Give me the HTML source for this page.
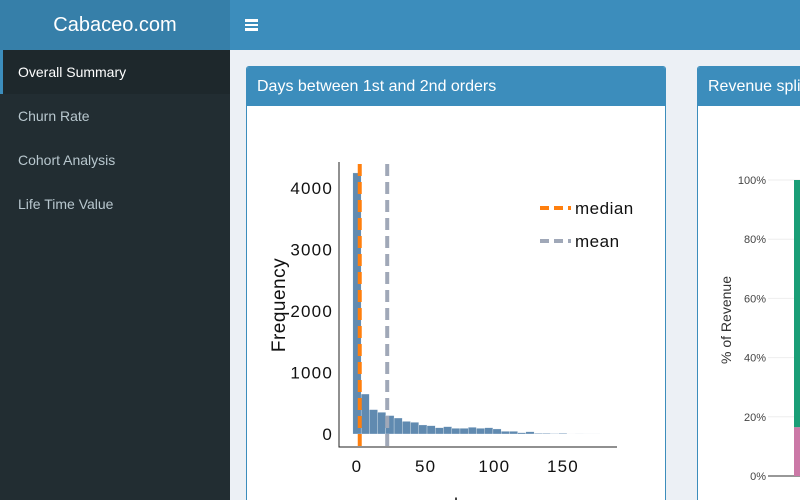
<!DOCTYPE html>
<html><head><meta charset="utf-8"><style>
*{box-sizing:border-box;margin:0;padding:0}
html,body{width:800px;height:500px;overflow:hidden}
body{background:#ecf0f5;font-family:"Liberation Sans",sans-serif;position:relative}
.abs{position:absolute}
.menu{position:absolute;left:0;width:230px;height:44px;color:#b8c7ce;font-size:14px;line-height:44px;padding-left:18px}
.bar{position:absolute;left:0;width:13px;height:2.5px;background:#fff}
</style></head><body>
<div class="abs" style="left:0;top:0;width:230px;height:50px;background:#367fa9;color:#fff;font-size:20px;line-height:50px;text-align:center">Cabaceo.com</div>
<div class="abs" style="left:230px;top:0;width:570px;height:50px;background:#3c8dbc"></div>
<div class="abs" style="left:245px;top:19px;width:13px;height:12px">
 <div class="bar" style="top:0"></div><div class="bar" style="top:4.5px"></div><div class="bar" style="top:9px"></div>
</div>
<div class="abs" style="left:0;top:50px;width:230px;height:450px;background:#222d32"></div>
<div class="menu" style="top:50px;background:#1e282c;color:#fff;border-left:3px solid #3c8dbc;padding-left:15px">Overall Summary</div>
<div class="menu" style="top:94px">Churn Rate</div>
<div class="menu" style="top:138px">Cohort Analysis</div>
<div class="menu" style="top:182px">Life Time Value</div>

<div class="abs" style="left:246px;top:66px;width:420px;height:434px;background:#fff;border:1px solid #3c8dbc;border-bottom:none;border-radius:3px 3px 0 0;overflow:hidden">
 <div style="height:39px;background:#3c8dbc;color:#fff;font-size:16px;line-height:39px;padding-left:10px">Days between 1st and 2nd orders</div>
</div>
<div class="abs" style="left:697px;top:66px;width:120px;height:434px;background:#fff;border:1px solid #3c8dbc;border-bottom:none;border-radius:3px 3px 0 0;overflow:hidden">
 <div style="height:39px;background:#3c8dbc;color:#fff;font-size:16px;line-height:39px;padding-left:10px;white-space:nowrap">Revenue split</div>
</div>

<svg class="abs" style="left:0;top:0" width="800" height="500" id="svg"></svg>
<script>
const binStart=-3, binWidth=6;
const counts=[4245,650,397,353,300,260,205,190,147,136,103,120,92,92,109,92,103,82,43,43,22,38,11,11,8,11,3,2,1,1];
const yTicks=[0,1000,2000,3000,4000];
const xTicks=[0,50,100,150];
const medianVal=2, meanVal=22;
const revTicks=[0,20,40,60,80,100];
const revSeries=[16.5,83.5];
const revColors=['#cc79a7','#1a9e77'];

const NS='http://www.w3.org/2000/svg';
const svg=document.getElementById('svg');
function mk(t,a,p){const e=document.createElementNS(NS,t);for(const k in a)e.setAttribute(k,a[k]);(p||svg).appendChild(e);return e;}
const X=v=>357+v*1.373, Y=v=>434-v*0.0615;
const g=mk('g',{});


counts.forEach((c,i)=>{
 const x0=X(binStart+i*binWidth), x1=X(binStart+(i+1)*binWidth);
 const r=mk('rect',{x:x0,y:Y(c),width:x1-x0,height:Y(0)-Y(c),fill:'#4f7ea8',opacity:0.9,stroke:'#fff','stroke-width':0.3},g);
 
 
});
const ax=mk('path',{d:'M339 162V447H617',fill:'none',stroke:'#222','stroke-width':1});


yTicks.forEach(t=>{
 const tx=mk('text',{x:333,y:Y(t)+6,'text-anchor':'end','font-size':17,'letter-spacing':1.2,fill:'#111'});tx.textContent=t;
 
 
});
xTicks.forEach(t=>{
 const tx=mk('text',{x:X(t),y:472,'text-anchor':'middle','font-size':17,'letter-spacing':1.2,fill:'#111'});tx.textContent=t;
 
 
});
const xt=mk('text',{x:467,y:511,'text-anchor':'middle','font-size':18,fill:'#111'});xt.textContent='days';


const yt=mk('text',{x:0,y:0,transform:'translate(285,305) rotate(-90)','text-anchor':'middle','font-size':19,'letter-spacing':0.5,fill:'#111'});yt.textContent='Frequency';


const mdl=mk('line',{x1:X(medianVal),x2:X(medianVal),y1:164,y2:452,stroke:'#ff7f0e','stroke-width':4,'stroke-dasharray':'12,6'});


const mnl=mk('line',{x1:X(meanVal),x2:X(meanVal),y1:164,y2:452,stroke:'#a0a8b8','stroke-width':4,'stroke-dasharray':'12,6'});


[['median','#ff7f0e',208],['mean','#a0a8b8',241]].forEach(([n,c,y])=>{
 const l=mk('line',{x1:540,x2:571,y1:y,y2:y,stroke:c,'stroke-width':4,'stroke-dasharray':'9,5'});
 
 
 const t=mk('text',{x:575,y:y+6,'font-size':17,'letter-spacing':0.5,fill:'#111'});t.textContent=n;
 
 
});
const RY=v=>476-v*2.96;
revTicks.forEach(t=>{
 mk('line',{x1:768,x2:800,y1:RY(t),y2:RY(t),stroke:t?'#eee':'#777','stroke-width':t?1:1.5});
 const tx=mk('text',{x:766,y:RY(t)+4,'text-anchor':'end','font-size':11,fill:'#444'});tx.textContent=t+'%';
 
 
});
let acc=0;
revSeries.forEach((v,i)=>{
 const r=mk('rect',{x:794,y:RY(acc+v),width:10,height:RY(acc)-RY(acc+v),fill:revColors[i]});
 
 
 acc+=v;
});
const rt=mk('text',{x:0,y:0,transform:'translate(731,320) rotate(-90)','text-anchor':'middle','font-size':14,fill:'#333'});rt.textContent='% of Revenue';


</script>
</body></html>
